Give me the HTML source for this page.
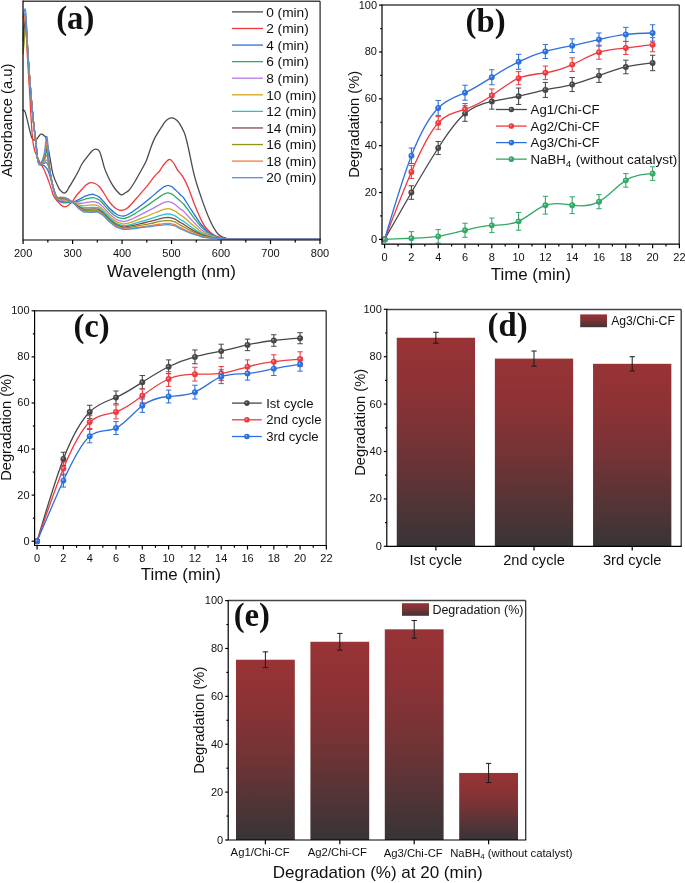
<!DOCTYPE html>
<html><head><meta charset="utf-8"><style>
html,body{margin:0;padding:0;background:#fff;}
svg{display:block;will-change:transform;}
text{font-family:"Liberation Sans",sans-serif;fill:#111;}
</style></head><body>
<svg width="685" height="883" viewBox="0 0 685 883">
<defs><radialGradient id="g474747" cx="50%" cy="50%" r="50%" fx="36%" fy="34%"><stop offset="0" stop-color="#b8b8b8"/><stop offset="0.42" stop-color="#474747"/><stop offset="1" stop-color="#474747"/></radialGradient>
<radialGradient id="gee3a3f" cx="50%" cy="50%" r="50%" fx="36%" fy="34%"><stop offset="0" stop-color="#ffc8c8"/><stop offset="0.42" stop-color="#ee3a3f"/><stop offset="1" stop-color="#ee3a3f"/></radialGradient>
<radialGradient id="g2b70dd" cx="50%" cy="50%" r="50%" fx="36%" fy="34%"><stop offset="0" stop-color="#c4dbff"/><stop offset="0.42" stop-color="#2b70dd"/><stop offset="1" stop-color="#2b70dd"/></radialGradient>
<radialGradient id="g35a766" cx="50%" cy="50%" r="50%" fx="36%" fy="34%"><stop offset="0" stop-color="#c4f0d6"/><stop offset="0.42" stop-color="#35a766"/><stop offset="1" stop-color="#35a766"/></radialGradient>
<linearGradient id="bar" x1="0" y1="0" x2="0" y2="1"><stop offset="0" stop-color="#993335"/><stop offset="0.25" stop-color="#8c3235"/><stop offset="0.5" stop-color="#763335"/><stop offset="0.75" stop-color="#573436"/><stop offset="1" stop-color="#383436"/></linearGradient>
<linearGradient id="bar2" x1="0" y1="0" x2="0" y2="1"><stop offset="0" stop-color="#993335"/><stop offset="0.5" stop-color="#7a3335"/><stop offset="1" stop-color="#3c3436"/></linearGradient></defs>
<rect width="685" height="883" fill="#fff"/>
<g fill="none" stroke-width="1.3" stroke-linejoin="round" stroke-linecap="round">
<path d="M23.2,110.2 C23.52,110.48 24.27,109.63 25.1,111.9 C25.93,114.17 27.07,119.45 28.2,123.8 C29.33,128.15 30.67,135.28 31.9,138 C33.13,140.72 34.58,140.18 35.6,140.1 C36.62,140.02 37.2,138.47 38,137.5 C38.8,136.53 39.67,134.83 40.4,134.3 C41.13,133.77 41.72,134.02 42.4,134.3 C43.08,134.58 43.87,135.27 44.5,136 C45.13,136.73 45.37,135.53 46.2,138.7 C47.03,141.87 48.35,149.02 49.5,155 C50.65,160.98 51.6,169.17 53.1,174.6 C54.6,180.03 57.1,184.78 58.5,187.6 C59.9,190.42 60.52,190.57 61.5,191.5 C62.48,192.43 63.48,193.28 64.4,193.2 C65.32,193.12 66.12,192.17 67,191 C67.88,189.83 68.48,188.27 69.7,186.2 C70.92,184.13 72.83,181.13 74.3,178.6 C75.77,176.07 77.18,173.52 78.5,171 C79.82,168.48 80.6,166.07 82.2,163.5 C83.8,160.93 86.47,157.68 88.1,155.6 C89.73,153.52 90.8,152.08 92,151 C93.2,149.92 94.3,149.3 95.3,149.1 C96.3,148.9 97.23,149.27 98,149.8 C98.77,150.33 99.23,150.77 99.9,152.3 C100.57,153.83 101.23,156.37 102,159 C102.77,161.63 103.5,165.18 104.5,168.1 C105.5,171.02 106.78,173.87 108,176.5 C109.22,179.13 110.47,181.65 111.8,183.9 C113.13,186.15 114.45,188.18 116,190 C117.55,191.82 119.6,194.3 121.1,194.8 C122.6,195.3 123.68,193.75 125,193 C126.32,192.25 127.5,191.97 129,190.3 C130.5,188.63 132.4,185.55 134,183 C135.6,180.45 136.58,178.62 138.6,175 C140.62,171.38 144.2,165.47 146.1,161.3 C148,157.13 148.67,153.65 150,150 C151.33,146.35 152.57,142.62 154.1,139.4 C155.63,136.18 157.38,133.62 159.2,130.7 C161.02,127.78 163.45,123.88 165,121.9 C166.55,119.92 167.4,119.48 168.5,118.8 C169.6,118.12 170.52,117.77 171.6,117.8 C172.68,117.83 173.78,118.2 175,119 C176.22,119.8 177.4,120.42 178.9,122.6 C180.4,124.78 182.73,129.2 184,132.1 C185.27,135 185.7,137.02 186.5,140 C187.3,142.98 187.43,143.85 188.8,150 C190.17,156.15 192.45,168.47 194.7,176.9 C196.95,185.33 199.78,193.43 202.3,200.6 C204.82,207.77 207.47,214.7 209.8,219.9 C212.13,225.1 214.43,229.08 216.3,231.8 C218.17,234.52 219.38,235.13 221,236.2 C222.62,237.27 224.17,237.77 226,238.2 C227.83,238.63 216.33,238.7 232,238.8 C247.67,238.9 305.33,238.8 320,238.8" stroke="#4a4a4a"/>
<path d="M23.2,40 C23.53,36 24.52,13.5 25.2,16 C25.88,18.5 26.58,42.67 27.3,55 C28.02,67.33 28.85,79.17 29.5,90 C30.15,100.83 30.67,111.67 31.2,120 C31.73,128.33 32.15,135 32.7,140 C33.25,145 33.82,147.4 34.5,150 C35.18,152.6 35.88,153.52 36.8,155.6 C37.72,157.68 38.87,160.35 40,162.5 C41.13,164.65 42.52,166.33 43.6,168.5 C44.68,170.67 45.6,173.23 46.5,175.5 C47.4,177.77 48.17,179.77 49,182.1 C49.83,184.43 50.7,187.12 51.5,189.5 C52.3,191.88 52.73,194.38 53.8,196.4 C54.87,198.42 56.7,200.17 57.9,201.6 C59.1,203.03 59.9,204.12 61,205 C62.1,205.88 63.33,206.82 64.5,206.9 C65.67,206.98 66.7,206.38 68,205.5 C69.3,204.62 70.88,203.27 72.3,201.6 C73.72,199.93 74.97,197.47 76.5,195.5 C78.03,193.53 79.92,191.55 81.5,189.8 C83.08,188.05 84.47,186.2 86,185 C87.53,183.8 89.2,182.85 90.7,182.6 C92.2,182.35 93.57,182.85 95,183.5 C96.43,184.15 97.88,185 99.3,186.5 C100.72,188 102.08,190.32 103.5,192.5 C104.92,194.68 106.38,197.52 107.8,199.6 C109.22,201.68 110.63,203.52 112,205 C113.37,206.48 114.4,207.58 116,208.5 C117.6,209.42 119.58,210.68 121.6,210.5 C123.62,210.32 125.55,209.52 128.1,207.4 C130.65,205.28 133.97,201.08 136.9,197.8 C139.83,194.52 142.63,191.43 145.7,187.7 C148.77,183.97 153.05,178.1 155.3,175.4 C157.55,172.7 157.83,173.23 159.2,171.5 C160.57,169.77 161.92,166.98 163.5,165 C165.08,163.02 167.37,160.35 168.7,159.6 C170.03,158.85 170.57,159.77 171.5,160.5 C172.43,161.23 173.3,162.43 174.3,164 C175.3,165.57 176.07,167.75 177.5,169.9 C178.93,172.05 181.1,173.93 182.9,176.9 C184.7,179.87 186.33,183.03 188.3,187.7 C190.27,192.37 192.37,199.17 194.7,204.9 C197.03,210.63 200.33,218.17 202.3,222.1 C204.27,226.03 205.07,226.72 206.5,228.5 C207.93,230.28 209.48,231.63 210.9,232.8 C212.32,233.97 213.57,234.78 215,235.5 C216.43,236.22 217.67,236.58 219.5,237.1 C221.33,237.62 223.42,238.32 226,238.6 C228.58,238.88 219.33,238.77 235,238.8 C250.67,238.83 305.83,238.8 320,238.8" stroke="#ee3a3a"/>
<path d="M23.2,30 C23.6,27.42 24.75,9.5 25.6,14.5 C26.45,19.5 27.33,45.75 28.3,60 C29.27,74.25 30.47,89 31.4,100 C32.33,111 33.17,119.17 33.9,126 C34.63,132.83 35.18,135.5 35.8,141 C36.42,146.5 36.9,155.08 37.6,159 C38.3,162.92 39,163.45 40,164.5 C41,165.55 42.32,164.4 43.6,165.3 C44.88,166.2 46.55,167.78 47.7,169.9 C48.85,172.02 49.6,175.05 50.5,178 C51.4,180.95 52.1,184.17 53.1,187.6 C54.1,191.03 55.35,196.23 56.5,198.6 C57.65,200.97 58.75,201.08 60,201.8 C61.25,202.52 62.67,202.78 64,202.9 C65.33,203.02 66.57,202.6 68,202.5 C69.43,202.4 70.85,202.76 72.6,202.3 C74.35,201.84 77.43,200.19 78.5,199.72 C79.57,199.25 78.1,200 79,199.5 C79.9,199 82.9,197.29 83.9,196.72 C84.9,196.16 84.15,196.42 85,196.1 C85.85,195.78 88.17,195.04 89,194.8 C89.83,194.56 89.3,194.76 90,194.68 C90.7,194.6 91.88,194.04 93.2,194.3 C94.52,194.56 96.93,195.84 97.9,196.24 C98.87,196.64 98.15,195.91 99,196.7 C99.85,197.49 102.25,200.17 103,200.97 C103.75,201.77 102.6,200.46 103.5,201.5 C104.4,202.54 107.32,206 108.4,207.2 C109.48,208.4 109.07,207.83 110,208.71 C110.93,209.6 113,211.66 114,212.5 C115,213.34 115.33,213.33 116,213.75 C116.67,214.17 116.85,214.59 118,215 C119.15,215.41 121.93,216.04 122.9,216.2 C123.87,216.36 123.12,216.14 123.8,215.94 C124.48,215.74 125.63,215.64 127,215 C128.37,214.36 131.08,212.62 132,212.09 C132.92,211.56 130.95,212.95 132.5,211.8 C134.05,210.65 138.38,207.47 141.3,205.2 C144.22,202.93 147.08,200.6 150,198.2 C152.92,195.8 156.55,192.67 158.8,190.8 C161.05,188.93 162.33,187.78 163.5,187 C164.67,186.22 165.05,186.41 165.8,186.13 C166.55,185.85 167.3,185.31 168,185.3 C168.7,185.29 169.33,185.8 170,186.05 C170.67,186.3 171.17,186.22 172,186.8 C172.83,187.38 174.25,188.85 175,189.53 C175.75,190.22 175.53,189.96 176.5,190.9 C177.47,191.84 179.55,193.95 180.8,195.2 C182.05,196.45 182.22,195.9 184,198.4 C185.78,200.9 188.82,206.07 191.5,210.2 C194.18,214.33 198.3,220.61 200.1,223.2 C201.9,225.79 201.32,224.6 202.3,225.74 C203.28,226.87 204.57,228.64 206,230 C207.43,231.36 209.9,233.16 210.9,233.9 C211.9,234.64 210.98,233.94 212,234.46 C213.02,234.98 215.33,236.4 217,237 C218.67,237.6 220.83,237.82 222,238.07 C223.17,238.32 222.33,238.38 224,238.5 C225.67,238.62 216,238.75 232,238.8 C248,238.85 305.33,238.8 320,238.8" stroke="#2b6fe0"/>
<path d="M23.2,36 C23.6,33.25 24.75,15.5 25.6,19.5 C26.45,23.5 27.33,46.58 28.3,60 C29.27,73.42 30.47,89 31.4,100 C32.33,111 33.17,119.17 33.9,126 C34.63,132.83 35.18,135.5 35.8,141 C36.42,146.5 36.9,155.08 37.6,159 C38.3,162.92 38.9,163.79 40,164.5 C41.1,165.21 43.03,163.49 44.2,163.26 C45.37,163.03 46.1,161.92 47,163.1 C47.9,164.28 48.7,166.84 49.6,170.36 C50.5,173.88 51.25,179.56 52.4,184.2 C53.55,188.84 55.23,195.43 56.5,198.22 C57.77,201.01 58.75,200.34 60,200.95 C61.25,201.55 62.67,201.71 64,201.86 C65.33,202 66.57,201.76 68,201.84 C69.43,201.91 70.85,202.38 72.6,202.3 C74.35,202.22 77.43,201.53 78.5,201.35 C79.57,201.17 78.1,201.52 79,201.24 C79.9,200.95 82.9,199.98 83.9,199.63 C84.9,199.28 84.15,199.38 85,199.13 C85.85,198.89 88.17,198.31 89,198.13 C89.83,197.95 89.3,198.12 90,198.05 C90.7,197.98 91.88,197.51 93.2,197.71 C94.52,197.91 96.93,198.9 97.9,199.24 C98.87,199.58 98.15,199 99,199.74 C99.85,200.48 102.25,202.94 103,203.69 C103.75,204.44 102.6,203.2 103.5,204.22 C104.4,205.23 107.32,208.59 108.4,209.76 C109.48,210.94 109.07,210.43 110,211.3 C110.93,212.16 113,214.12 114,214.94 C115,215.77 115.33,215.84 116,216.25 C116.67,216.66 116.85,216.99 118,217.39 C119.15,217.8 121.93,218.5 122.9,218.69 C123.87,218.88 123.12,218.69 123.8,218.53 C124.48,218.37 125.63,218.26 127,217.71 C128.37,217.17 131.08,215.72 132,215.27 C132.92,214.82 130.95,215.99 132.5,215.02 C134.05,214.05 138.38,211.36 141.3,209.46 C144.22,207.55 147.08,205.61 150,203.6 C152.92,201.58 156.55,198.94 158.8,197.37 C161.05,195.81 162.33,194.86 163.5,194.21 C164.67,193.55 165.05,193.69 165.8,193.46 C166.55,193.22 167.3,192.8 168,192.8 C168.7,192.79 169.33,193.2 170,193.41 C170.67,193.63 171.17,193.59 172,194.1 C172.83,194.6 174.25,195.83 175,196.42 C175.75,197.02 175.53,196.82 176.5,197.69 C177.47,198.55 179.55,200.49 180.8,201.62 C182.05,202.75 182.22,202.31 184,204.48 C185.78,206.65 188.82,211.13 191.5,214.66 C194.18,218.2 198.3,223.49 200.1,225.69 C201.9,227.9 201.32,226.92 202.3,227.88 C203.28,228.83 204.57,230.29 206,231.42 C207.43,232.56 209.9,234.08 210.9,234.71 C211.9,235.34 210.98,234.76 212,235.19 C213.02,235.62 215.33,236.78 217,237.28 C218.67,237.79 220.83,237.98 222,238.19 C223.17,238.4 222.33,238.44 224,238.54 C225.67,238.64 216,238.76 232,238.8 C248,238.84 305.33,238.8 320,238.8" stroke="#30a862"/>
<path d="M23.2,42 C23.6,38.92 24.75,20.5 25.6,23.5 C26.45,26.5 27.33,47.25 28.3,60 C29.27,72.75 30.47,89 31.4,100 C32.33,111 33.17,119.17 33.9,126 C34.63,132.83 35.18,135.5 35.8,141 C36.42,146.5 36.9,155.08 37.6,159 C38.3,162.92 38.9,163.95 40,164.5 C41.1,165.05 43.03,163 44.2,162.31 C45.37,161.63 46.1,159.1 47,160.4 C47.9,161.7 48.7,166.12 49.6,170.09 C50.5,174.06 51.25,179.59 52.4,184.2 C53.55,188.81 55.23,195.15 56.5,197.77 C57.77,200.4 58.75,199.47 60,199.94 C61.25,200.42 62.67,200.44 64,200.63 C65.33,200.81 66.57,200.78 68,201.05 C69.43,201.33 70.85,201.93 72.6,202.3 C74.35,202.67 77.43,203.1 78.5,203.26 C79.57,203.43 78.1,203.31 79,203.28 C79.9,203.24 82.9,203.13 83.9,203.03 C84.9,202.94 84.15,202.86 85,202.7 C85.85,202.53 88.17,202.16 89,202.04 C89.83,201.93 89.3,202.05 90,202 C90.7,201.94 91.88,201.58 93.2,201.71 C94.52,201.83 96.93,202.48 97.9,202.75 C98.87,203.02 98.15,202.62 99,203.31 C99.85,204 102.25,206.2 103,206.89 C103.75,207.57 102.6,206.42 103.5,207.41 C104.4,208.39 107.32,211.62 108.4,212.78 C109.48,213.93 109.07,213.49 110,214.33 C110.93,215.16 113,217 114,217.81 C115,218.62 115.33,218.78 116,219.18 C116.67,219.58 116.85,219.8 118,220.2 C119.15,220.6 121.93,221.38 122.9,221.61 C123.87,221.84 123.12,221.7 123.8,221.58 C124.48,221.46 125.63,221.33 127,220.9 C128.37,220.47 131.08,219.34 132,218.99 C132.92,218.64 130.95,219.55 132.5,218.79 C134.05,218.04 138.38,215.93 141.3,214.45 C144.22,212.97 147.08,211.49 150,209.93 C152.92,208.37 156.55,206.3 158.8,205.09 C161.05,203.88 162.33,203.17 163.5,202.67 C164.67,202.16 165.05,202.24 165.8,202.06 C166.55,201.88 167.3,201.59 168,201.59 C168.7,201.59 169.33,201.88 170,202.05 C170.67,202.23 171.17,202.25 172,202.66 C172.83,203.07 174.25,204.01 175,204.51 C175.75,205.01 175.53,204.88 176.5,205.66 C177.47,206.43 179.55,208.17 180.8,209.16 C182.05,210.15 182.22,209.83 184,211.62 C185.78,213.41 188.82,217.07 191.5,219.91 C194.18,222.74 198.3,226.87 200.1,228.62 C201.9,230.37 201.32,229.64 202.3,230.39 C203.28,231.13 204.57,232.22 206,233.1 C207.43,233.97 209.9,235.16 210.9,235.66 C211.9,236.15 210.98,235.72 212,236.05 C213.02,236.37 215.33,237.24 217,237.62 C218.67,238 220.83,238.17 222,238.33 C223.17,238.49 222.33,238.51 224,238.59 C225.67,238.67 216,238.77 232,238.8 C248,238.83 305.33,238.8 320,238.8" stroke="#b47be6"/>
<path d="M23.2,54 C23.6,50.25 24.75,30.5 25.6,31.5 C26.45,32.5 27.33,48.58 28.3,60 C29.27,71.42 30.47,89 31.4,100 C32.33,111 33.17,119.17 33.9,126 C34.63,132.83 35.18,135.5 35.8,141 C36.42,146.5 36.9,155.08 37.6,159 C38.3,162.92 38.9,164.25 40,164.5 C41.1,164.75 43.03,162.06 44.2,160.53 C45.37,159 46.1,153.79 47,155.3 C47.9,156.81 48.7,164.76 49.6,169.58 C50.5,174.4 51.25,179.56 52.4,184.2 C53.55,188.84 55.23,194.93 56.5,197.42 C57.77,199.91 58.75,198.76 60,199.14 C61.25,199.51 62.67,199.43 64,199.64 C65.33,199.86 66.57,199.99 68,200.43 C69.43,200.87 70.85,201.57 72.6,202.3 C74.35,203.03 77.43,204.36 78.5,204.8 C79.57,205.23 78.1,204.75 79,204.91 C79.9,205.07 82.9,205.66 83.9,205.77 C84.9,205.87 84.15,205.65 85,205.56 C85.85,205.46 88.17,205.24 89,205.18 C89.83,205.12 89.3,205.21 90,205.17 C90.7,205.13 91.88,204.85 93.2,204.92 C94.52,204.99 96.93,205.36 97.9,205.57 C98.87,205.78 98.15,205.53 99,206.18 C99.85,206.83 102.25,208.82 103,209.45 C103.75,210.08 102.6,209.01 103.5,209.97 C104.4,210.92 107.32,214.06 108.4,215.19 C109.48,216.32 109.07,215.94 110,216.76 C110.93,217.58 113,219.32 114,220.12 C115,220.91 115.33,221.15 116,221.53 C116.67,221.92 116.85,222.05 118,222.45 C119.15,222.86 121.93,223.69 122.9,223.95 C123.87,224.21 123.12,224.11 123.8,224.03 C124.48,223.94 125.63,223.8 127,223.46 C128.37,223.12 131.08,222.25 132,221.98 C132.92,221.71 130.95,222.41 132.5,221.83 C134.05,221.24 138.38,219.6 141.3,218.46 C144.22,217.33 147.08,216.21 150,215.01 C152.92,213.82 156.55,212.21 158.8,211.28 C161.05,210.36 162.33,209.84 163.5,209.45 C164.67,209.07 165.05,209.1 165.8,208.96 C166.55,208.83 167.3,208.65 168,208.66 C168.7,208.66 169.33,208.84 170,208.99 C170.67,209.14 171.17,209.2 172,209.53 C172.83,209.87 174.25,210.58 175,211 C175.75,211.42 175.53,211.35 176.5,212.05 C177.47,212.75 179.55,214.33 180.8,215.21 C182.05,216.09 182.22,215.86 184,217.35 C185.78,218.83 188.82,221.84 191.5,224.11 C194.18,226.38 198.3,229.59 200.1,230.97 C201.9,232.35 201.32,231.83 202.3,232.4 C203.28,232.98 204.57,233.77 206,234.44 C207.43,235.11 209.9,236.03 210.9,236.42 C211.9,236.8 210.98,236.49 212,236.73 C213.02,236.98 215.33,237.6 217,237.89 C218.67,238.17 220.83,238.32 222,238.44 C223.17,238.57 222.33,238.57 224,238.63 C225.67,238.69 216,238.77 232,238.8 C248,238.83 305.33,238.8 320,238.8" stroke="#d6a31c"/>
<path d="M23.2,46 C23.6,42.58 24.75,23.17 25.6,25.5 C26.45,27.83 27.33,47.58 28.3,60 C29.27,72.42 30.47,89 31.4,100 C32.33,111 33.17,119.17 33.9,126 C34.63,132.83 35.18,135.5 35.8,141 C36.42,146.5 36.9,155.08 37.6,159 C38.3,162.92 38.9,164.43 40,164.5 C41.1,164.57 43.03,161.5 44.2,159.44 C45.37,157.39 46.1,150.56 47,152.2 C47.9,153.84 48.7,163.94 49.6,169.27 C50.5,174.6 51.25,179.55 52.4,184.2 C53.55,188.85 55.23,194.76 56.5,197.15 C57.77,199.53 58.75,198.24 60,198.53 C61.25,198.82 62.67,198.66 64,198.9 C65.33,199.14 66.57,199.39 68,199.96 C69.43,200.52 70.85,201.3 72.6,202.3 C74.35,203.3 77.43,205.32 78.5,205.96 C79.57,206.6 78.1,205.83 79,206.15 C79.9,206.46 82.9,207.57 83.9,207.83 C84.9,208.09 84.15,207.76 85,207.71 C85.85,207.66 88.17,207.57 89,207.55 C89.83,207.52 89.3,207.6 90,207.56 C90.7,207.53 91.88,207.32 93.2,207.34 C94.52,207.36 96.93,207.53 97.9,207.7 C98.87,207.87 98.15,207.73 99,208.34 C99.85,208.96 102.25,210.79 103,211.39 C103.75,211.98 102.6,210.96 103.5,211.9 C104.4,212.83 107.32,215.9 108.4,217.01 C109.48,218.13 109.07,217.78 110,218.59 C110.93,219.4 113,221.07 114,221.85 C115,222.64 115.33,222.93 116,223.31 C116.67,223.69 116.85,223.75 118,224.15 C119.15,224.56 121.93,225.43 122.9,225.72 C123.87,226 123.12,225.92 123.8,225.87 C124.48,225.82 125.63,225.66 127,225.39 C128.37,225.12 131.08,224.45 132,224.24 C132.92,224.03 130.95,224.57 132.5,224.11 C134.05,223.65 138.38,222.36 141.3,221.48 C144.22,220.61 147.08,219.77 150,218.85 C152.92,217.93 156.55,216.67 158.8,215.95 C161.05,215.24 162.33,214.87 163.5,214.58 C164.67,214.28 165.05,214.27 165.8,214.17 C166.55,214.07 167.3,213.97 168,213.98 C168.7,213.99 169.33,214.1 170,214.22 C170.67,214.34 171.17,214.44 172,214.72 C172.83,215 174.25,215.54 175,215.9 C175.75,216.26 175.53,216.23 176.5,216.87 C177.47,217.52 179.55,218.97 180.8,219.77 C182.05,220.57 182.22,220.42 184,221.67 C185.78,222.92 188.82,225.44 191.5,227.28 C194.18,229.13 198.3,231.64 200.1,232.74 C201.9,233.85 201.32,233.47 202.3,233.92 C203.28,234.38 204.57,234.94 206,235.45 C207.43,235.96 209.9,236.69 210.9,236.99 C211.9,237.29 210.98,237.07 212,237.25 C213.02,237.43 215.33,237.88 217,238.09 C218.67,238.3 220.83,238.43 222,238.53 C223.17,238.62 222.33,238.61 224,238.66 C225.67,238.71 216,238.78 232,238.8 C248,238.82 305.33,238.8 320,238.8" stroke="#1cc6d6"/>
<path d="M23.2,40 C23.6,36.92 24.75,18.17 25.6,21.5 C26.45,24.83 27.33,46.92 28.3,60 C29.27,73.08 30.47,89 31.4,100 C32.33,111 33.17,119.17 33.9,126 C34.63,132.83 35.18,135.5 35.8,141 C36.42,146.5 36.9,155.08 37.6,159 C38.3,162.92 38.9,164.58 40,164.5 C41.1,164.42 43.03,161 44.2,158.5 C45.37,156 46.1,147.75 47,149.5 C47.9,151.25 48.7,163.22 49.6,169 C50.5,174.78 51.25,179.54 52.4,184.2 C53.55,188.86 55.23,194.65 56.5,196.97 C57.77,199.29 58.75,197.89 60,198.13 C61.25,198.37 62.67,198.16 64,198.41 C65.33,198.66 66.57,199 68,199.64 C69.43,200.29 70.85,201.12 72.6,202.3 C74.35,203.48 77.43,205.94 78.5,206.72 C79.57,207.5 78.1,206.55 79,206.96 C79.9,207.37 82.9,208.83 83.9,209.19 C84.9,209.55 84.15,209.15 85,209.13 C85.85,209.12 88.17,209.11 89,209.11 C89.83,209.11 89.3,209.17 90,209.14 C90.7,209.11 91.88,208.94 93.2,208.94 C94.52,208.93 96.93,208.96 97.9,209.1 C98.87,209.24 98.15,209.17 99,209.77 C99.85,210.36 102.25,212.1 103,212.66 C103.75,213.23 102.6,212.24 103.5,213.17 C104.4,214.09 107.32,217.11 108.4,218.22 C109.48,219.32 109.07,219 110,219.8 C110.93,220.6 113,222.22 114,223 C115,223.78 115.33,224.1 116,224.48 C116.67,224.86 116.85,224.88 118,225.28 C119.15,225.68 121.93,226.58 122.9,226.88 C123.87,227.18 123.12,227.12 123.8,227.09 C124.48,227.05 125.63,226.89 127,226.66 C128.37,226.43 131.08,225.9 132,225.73 C132.92,225.55 130.95,225.99 132.5,225.62 C134.05,225.24 138.38,224.19 141.3,223.48 C144.22,222.77 147.08,222.12 150,221.37 C152.92,220.63 156.55,219.6 158.8,219.03 C161.05,218.46 162.33,218.19 163.5,217.95 C164.67,217.71 165.05,217.68 165.8,217.6 C166.55,217.53 167.3,217.48 168,217.49 C168.7,217.5 169.33,217.56 170,217.67 C170.67,217.78 171.17,217.89 172,218.13 C172.83,218.38 174.25,218.81 175,219.13 C175.75,219.45 175.53,219.44 176.5,220.05 C177.47,220.66 179.55,222.04 180.8,222.78 C182.05,223.52 182.22,223.42 184,224.52 C185.78,225.62 188.82,227.81 191.5,229.38 C194.18,230.94 198.3,232.99 200.1,233.91 C201.9,234.84 201.32,234.56 202.3,234.93 C203.28,235.29 204.57,235.71 206,236.12 C207.43,236.52 209.9,237.12 210.9,237.37 C211.9,237.62 210.98,237.45 212,237.59 C213.02,237.74 215.33,238.06 217,238.22 C218.67,238.39 220.83,238.51 222,238.58 C223.17,238.66 222.33,238.64 224,238.68 C225.67,238.72 216,238.78 232,238.8 C248,238.82 305.33,238.8 320,238.8" stroke="#7d4c4c"/>
<path d="M23.2,50 C23.6,46.42 24.75,26.83 25.6,28.5 C26.45,30.17 27.33,48.08 28.3,60 C29.27,71.92 30.47,89 31.4,100 C32.33,111 33.17,119.17 33.9,126 C34.63,132.83 35.18,135.5 35.8,141 C36.42,146.5 36.9,155.08 37.6,159 C38.3,162.92 38.9,164.79 40,164.5 C41.1,164.21 43.03,160.36 44.2,157.28 C45.37,154.19 46.1,144.1 47,146 C47.9,147.9 48.7,162.28 49.6,168.65 C50.5,175.02 51.25,179.51 52.4,184.2 C53.55,188.89 55.23,194.55 56.5,196.81 C57.77,199.08 58.75,197.59 60,197.78 C61.25,197.98 62.67,197.72 64,197.99 C65.33,198.25 66.57,198.66 68,199.37 C69.43,200.09 70.85,200.97 72.6,202.3 C74.35,203.63 77.43,206.49 78.5,207.38 C79.57,208.28 78.1,207.17 79,207.66 C79.9,208.16 82.9,209.92 83.9,210.37 C84.9,210.82 84.15,210.35 85,210.36 C85.85,210.38 88.17,210.43 89,210.46 C89.83,210.48 89.3,210.53 90,210.5 C90.7,210.48 91.88,210.35 93.2,210.32 C94.52,210.29 96.93,210.2 97.9,210.31 C98.87,210.43 98.15,210.42 99,211 C99.85,211.57 102.25,213.22 103,213.77 C103.75,214.31 102.6,213.36 103.5,214.27 C104.4,215.18 107.32,218.16 108.4,219.26 C109.48,220.35 109.07,220.06 110,220.85 C110.93,221.64 113,223.22 114,223.99 C115,224.76 115.33,225.12 116,225.49 C116.67,225.87 116.85,225.85 118,226.24 C119.15,226.64 121.93,227.57 122.9,227.89 C123.87,228.2 123.12,228.16 123.8,228.14 C124.48,228.12 125.63,227.95 127,227.76 C128.37,227.57 131.08,227.15 132,227.01 C132.92,226.87 130.95,227.22 132.5,226.92 C134.05,226.62 138.38,225.76 141.3,225.2 C144.22,224.64 147.08,224.15 150,223.56 C152.92,222.98 156.55,222.15 158.8,221.7 C161.05,221.25 162.33,221.06 163.5,220.87 C164.67,220.68 165.05,220.63 165.8,220.57 C166.55,220.52 167.3,220.52 168,220.53 C168.7,220.54 169.33,220.56 170,220.65 C170.67,220.75 171.17,220.88 172,221.09 C172.83,221.3 174.25,221.63 175,221.92 C175.75,222.21 175.53,222.23 176.5,222.8 C177.47,223.38 179.55,224.69 180.8,225.38 C182.05,226.08 182.22,226.01 184,226.98 C185.78,227.95 188.82,229.86 191.5,231.19 C194.18,232.51 198.3,234.15 200.1,234.92 C201.9,235.69 201.32,235.5 202.3,235.79 C203.28,236.09 204.57,236.38 206,236.69 C207.43,237.01 209.9,237.5 210.9,237.7 C211.9,237.9 210.98,237.78 212,237.89 C213.02,238 215.33,238.22 217,238.34 C218.67,238.46 220.83,238.57 222,238.63 C223.17,238.69 222.33,238.67 224,238.7 C225.67,238.72 216,238.78 232,238.8 C248,238.82 305.33,238.8 320,238.8" stroke="#939318"/>
<path d="M23.2,26 C23.6,24.42 24.75,10.83 25.6,16.5 C26.45,22.17 27.33,46.08 28.3,60 C29.27,73.92 30.47,89 31.4,100 C32.33,111 33.17,119.17 33.9,126 C34.63,132.83 35.18,135.5 35.8,141 C36.42,146.5 36.9,155.08 37.6,159 C38.3,162.92 38.9,165.02 40,164.5 C41.1,163.98 43.03,159.62 44.2,155.88 C45.37,152.12 46.1,139.94 47,142 C47.9,144.06 48.7,161.22 49.6,168.25 C50.5,175.28 51.25,179.46 52.4,184.2 C53.55,188.94 55.23,194.46 56.5,196.67 C57.77,198.87 58.75,197.3 60,197.45 C61.25,197.6 62.67,197.3 64,197.58 C65.33,197.86 66.57,198.33 68,199.12 C69.43,199.9 70.85,200.82 72.6,202.3 C74.35,203.78 77.43,207.01 78.5,208.02 C79.57,209.02 78.1,207.76 79,208.34 C79.9,208.92 82.9,210.96 83.9,211.5 C84.9,212.03 84.15,211.5 85,211.55 C85.85,211.59 88.17,211.71 89,211.76 C89.83,211.8 89.3,211.83 90,211.82 C90.7,211.8 91.88,211.7 93.2,211.65 C94.52,211.59 96.93,211.39 97.9,211.48 C98.87,211.57 98.15,211.63 99,212.18 C99.85,212.74 102.25,214.3 103,214.83 C103.75,215.35 102.6,214.42 103.5,215.33 C104.4,216.23 107.32,219.17 108.4,220.25 C109.48,221.34 109.07,221.07 110,221.85 C110.93,222.63 113,224.17 114,224.94 C115,225.71 115.33,226.09 116,226.47 C116.67,226.84 116.85,226.78 118,227.18 C119.15,227.58 121.93,228.53 122.9,228.86 C123.87,229.19 123.12,229.16 123.8,229.15 C124.48,229.14 125.63,228.97 127,228.82 C128.37,228.67 131.08,228.36 132,228.25 C132.92,228.14 130.95,228.41 132.5,228.18 C134.05,227.95 138.38,227.28 141.3,226.86 C144.22,226.44 147.08,226.1 150,225.66 C152.92,225.23 156.55,224.59 158.8,224.26 C161.05,223.93 162.33,223.82 163.5,223.68 C164.67,223.54 165.05,223.47 165.8,223.43 C166.55,223.39 167.3,223.43 168,223.45 C168.7,223.47 169.33,223.44 170,223.52 C170.67,223.6 171.17,223.75 172,223.93 C172.83,224.11 174.25,224.35 175,224.6 C175.75,224.86 175.53,224.9 176.5,225.45 C177.47,226 179.55,227.23 180.8,227.88 C182.05,228.53 182.22,228.51 184,229.35 C185.78,230.19 188.82,231.83 191.5,232.92 C194.18,234.02 198.3,235.28 200.1,235.89 C201.9,236.51 201.32,236.4 202.3,236.63 C203.28,236.85 204.57,237.02 206,237.25 C207.43,237.48 209.9,237.86 210.9,238.01 C211.9,238.17 210.98,238.1 212,238.17 C213.02,238.25 215.33,238.37 217,238.45 C218.67,238.53 220.83,238.64 222,238.68 C223.17,238.72 222.33,238.69 224,238.71 C225.67,238.73 216,238.79 232,238.8 C248,238.81 305.33,238.8 320,238.8" stroke="#ff7a35"/>
<path d="M23.2,18 C23.6,16.83 24.75,4 25.6,11 C26.45,18 27.33,45.17 28.3,60 C29.27,74.83 30.47,89 31.4,100 C32.33,111 33.17,119.17 33.9,126 C34.63,132.83 35.18,135.5 35.8,141 C36.42,146.5 36.9,155.08 37.6,159 C38.3,162.92 38.9,165.33 40,164.5 C41.1,163.67 43.03,158.65 44.2,154.02 C45.37,149.39 46.1,134.42 47,136.7 C47.9,138.98 48.7,159.8 49.6,167.72 C50.5,175.64 51.25,179.39 52.4,184.2 C53.55,189.01 55.23,194.42 56.5,196.6 C57.77,198.78 58.75,197.17 60,197.3 C61.25,197.43 62.67,197.12 64,197.4 C65.33,197.68 66.57,198.18 68,199 C69.43,199.82 70.85,200.75 72.6,202.3 C74.35,203.85 77.43,207.24 78.5,208.3 C79.57,209.36 78.1,208.03 79,208.64 C79.9,209.26 82.9,211.43 83.9,212 C84.9,212.57 84.15,212.02 85,212.07 C85.85,212.13 88.17,212.28 89,212.33 C89.83,212.39 89.3,212.42 90,212.4 C90.7,212.38 91.88,212.3 93.2,212.24 C94.52,212.17 96.93,211.92 97.9,212 C98.87,212.08 98.15,212.16 99,212.71 C99.85,213.26 102.25,214.79 103,215.3 C103.75,215.81 102.6,214.9 103.5,215.8 C104.4,216.7 107.32,219.62 108.4,220.7 C109.48,221.78 109.07,221.52 110,222.3 C110.93,223.08 113,224.6 114,225.37 C115,226.13 115.33,226.53 116,226.9 C116.67,227.27 116.85,227.19 118,227.59 C119.15,227.99 121.93,228.95 122.9,229.29 C123.87,229.62 123.12,229.6 123.8,229.6 C124.48,229.6 125.63,229.42 127,229.29 C128.37,229.15 131.08,228.89 132,228.8 C132.92,228.71 130.95,228.94 132.5,228.74 C134.05,228.54 138.38,227.96 141.3,227.6 C144.22,227.24 147.08,226.97 150,226.6 C152.92,226.23 156.55,225.68 158.8,225.4 C161.05,225.12 162.33,225.05 163.5,224.93 C164.67,224.81 165.05,224.73 165.8,224.7 C166.55,224.67 167.3,224.74 168,224.75 C168.7,224.77 169.33,224.73 170,224.8 C170.67,224.87 171.17,225.03 172,225.2 C172.83,225.37 174.25,225.56 175,225.8 C175.75,226.04 175.53,226.09 176.5,226.63 C177.47,227.16 179.55,228.37 180.8,229 C182.05,229.63 182.22,229.62 184,230.41 C185.78,231.19 188.82,232.71 191.5,233.7 C194.18,234.69 198.3,235.78 200.1,236.33 C201.9,236.88 201.32,236.81 202.3,237 C203.28,237.19 204.57,237.3 206,237.5 C207.43,237.69 209.9,238.02 210.9,238.15 C211.9,238.29 210.98,238.24 212,238.3 C213.02,238.36 215.33,238.43 217,238.5 C218.67,238.57 220.83,238.66 222,238.7 C223.17,238.74 222.33,238.7 224,238.72 C225.67,238.74 216,238.79 232,238.8 C248,238.81 305.33,238.8 320,238.8" stroke="#5b8fd6"/>
</g>
<path d="M23,1.2H320.1" stroke="#444" stroke-width="1.5" fill="none"/>
<path d="M320.1,1.2V240" stroke="#333" stroke-width="1.3" fill="none"/>
<path d="M23,1.2V240H320.1" stroke="#000" stroke-width="1.2" fill="none" stroke-linejoin="miter" stroke-linecap="square"/>
<line x1="23.1" y1="240" x2="23.1" y2="244" stroke="#000" stroke-width="1.2" />
<text x="23.1" y="257.1" font-size="11" text-anchor="middle" >200</text>
<line x1="47.84" y1="240" x2="47.84" y2="242.5" stroke="#000" stroke-width="1.2" />
<line x1="72.58" y1="240" x2="72.58" y2="244" stroke="#000" stroke-width="1.2" />
<text x="72.58" y="257.1" font-size="11" text-anchor="middle" >300</text>
<line x1="97.32" y1="240" x2="97.32" y2="242.5" stroke="#000" stroke-width="1.2" />
<line x1="122.06" y1="240" x2="122.06" y2="244" stroke="#000" stroke-width="1.2" />
<text x="122.06" y="257.1" font-size="11" text-anchor="middle" >400</text>
<line x1="146.8" y1="240" x2="146.8" y2="242.5" stroke="#000" stroke-width="1.2" />
<line x1="171.54" y1="240" x2="171.54" y2="244" stroke="#000" stroke-width="1.2" />
<text x="171.54" y="257.1" font-size="11" text-anchor="middle" >500</text>
<line x1="196.28" y1="240" x2="196.28" y2="242.5" stroke="#000" stroke-width="1.2" />
<line x1="221.02" y1="240" x2="221.02" y2="244" stroke="#000" stroke-width="1.2" />
<text x="221.02" y="257.1" font-size="11" text-anchor="middle" >600</text>
<line x1="245.76" y1="240" x2="245.76" y2="242.5" stroke="#000" stroke-width="1.2" />
<line x1="270.5" y1="240" x2="270.5" y2="244" stroke="#000" stroke-width="1.2" />
<text x="270.5" y="257.1" font-size="11" text-anchor="middle" >700</text>
<line x1="295.24" y1="240" x2="295.24" y2="242.5" stroke="#000" stroke-width="1.2" />
<line x1="319.98" y1="240" x2="319.98" y2="244" stroke="#000" stroke-width="1.2" />
<text x="319.98" y="257.1" font-size="11" text-anchor="middle" >800</text>
<text x="171.5" y="276.9" font-size="17" text-anchor="middle" >Wavelength (nm)</text>
<text transform="translate(12.3,120.3) rotate(-90)" font-size="14.8" text-anchor="middle">Absorbance (a.u)</text>
<text x="56.2" y="29.0" font-size="32.7" style="font-family:'Liberation Serif',serif;font-weight:bold">(a)</text>
<line x1="232" y1="11.9" x2="263" y2="11.9" stroke="#4a4a4a" stroke-width="1.3" />
<text x="266.2" y="16.6" font-size="13.7" text-anchor="start" >0 (min)</text>
<line x1="232" y1="28.48" x2="263" y2="28.48" stroke="#ee3a3a" stroke-width="1.3" />
<text x="266.2" y="33.18" font-size="13.7" text-anchor="start" >2 (min)</text>
<line x1="232" y1="45.06" x2="263" y2="45.06" stroke="#2b6fe0" stroke-width="1.3" />
<text x="266.2" y="49.76" font-size="13.7" text-anchor="start" >4 (min)</text>
<line x1="232" y1="61.64" x2="263" y2="61.64" stroke="#30a862" stroke-width="1.3" />
<text x="266.2" y="66.34" font-size="13.7" text-anchor="start" >6 (min)</text>
<line x1="232" y1="78.22" x2="263" y2="78.22" stroke="#b47be6" stroke-width="1.3" />
<text x="266.2" y="82.92" font-size="13.7" text-anchor="start" >8 (min)</text>
<line x1="232" y1="94.8" x2="263" y2="94.8" stroke="#d6a31c" stroke-width="1.3" />
<text x="266.2" y="99.5" font-size="13.7" text-anchor="start" >10 (min)</text>
<line x1="232" y1="111.38" x2="263" y2="111.38" stroke="#1cc6d6" stroke-width="1.3" />
<text x="266.2" y="116.08" font-size="13.7" text-anchor="start" >12 (min)</text>
<line x1="232" y1="127.96" x2="263" y2="127.96" stroke="#7d4c4c" stroke-width="1.3" />
<text x="266.2" y="132.66" font-size="13.7" text-anchor="start" >14 (min)</text>
<line x1="232" y1="144.54" x2="263" y2="144.54" stroke="#939318" stroke-width="1.3" />
<text x="266.2" y="149.24" font-size="13.7" text-anchor="start" >16 (min)</text>
<line x1="232" y1="161.12" x2="263" y2="161.12" stroke="#ff7a35" stroke-width="1.3" />
<text x="266.2" y="165.82" font-size="13.7" text-anchor="start" >18 (min)</text>
<line x1="232" y1="177.7" x2="263" y2="177.7" stroke="#5b8fd6" stroke-width="1.3" />
<text x="266.2" y="182.4" font-size="13.7" text-anchor="start" >20 (min)</text>
<path d="M384.6,239.4 C393.53,223.68 402.47,207.96 411.4,192.54 C420.33,177.12 429.27,161.99 438.2,148.02 C447.13,134.06 456.07,121.26 465,113.58 C473.93,105.9 482.87,103.33 491.8,101.4 C500.73,99.46 509.67,98.16 518.6,96.24 C527.53,94.33 536.47,91.8 545.4,89.92 C554.33,88.04 563.27,86.81 572.2,84.53 C581.13,82.25 590.07,78.92 599,75.62 C607.93,72.33 616.87,69.06 625.8,66.96 C634.73,64.85 643.67,63.91 652.6,62.97" fill="none" stroke="#474747" stroke-width="1.3"/>
<path d="M384.6,239.4 C393.53,216.09 402.47,192.78 411.4,171.92 C420.33,151.06 429.27,132.65 438.2,122.95 C447.13,113.25 456.07,112.26 465,109.36 C473.93,106.46 482.87,101.66 491.8,95.54 C500.73,89.42 509.67,82 518.6,78.2 C527.53,74.41 536.47,74.25 545.4,72.81 C554.33,71.38 563.27,68.67 572.2,64.61 C581.13,60.55 590.07,55.13 599,52.19 C607.93,49.26 616.87,48.81 625.8,47.98 C634.73,47.14 643.67,45.92 652.6,44.7" fill="none" stroke="#ee3a3f" stroke-width="1.3"/>
<path d="M384.6,239.4 C393.53,209.1 402.47,178.79 411.4,155.75 C420.33,132.72 429.27,116.95 438.2,107.96 C447.13,98.96 456.07,96.75 465,92.73 C473.93,88.71 482.87,82.89 491.8,77.26 C500.73,71.64 509.67,66.22 518.6,61.8 C527.53,57.38 536.47,53.97 545.4,51.49 C554.33,49.02 563.27,47.48 572.2,45.63 C581.13,43.79 590.07,41.62 599,39.54 C607.93,37.46 616.87,35.47 625.8,34.39 C634.73,33.31 643.67,33.14 652.6,32.98" fill="none" stroke="#2b70dd" stroke-width="1.3"/>
<path d="M384.6,239.4 C393.53,238.97 402.47,238.55 411.4,238.23 C420.33,237.91 429.27,237.7 438.2,236.35 C447.13,235.01 456.07,232.51 465,230.26 C473.93,228.01 482.87,225.99 491.8,225.34 C500.73,224.69 509.67,225.4 518.6,221.36 C527.53,217.32 536.47,208.53 545.4,205.19 C554.33,201.85 563.27,203.96 572.2,205.19 C581.13,206.43 590.07,206.8 599,201.68 C607.93,196.56 616.87,185.96 625.8,180.36 C634.73,174.76 643.67,174.16 652.6,173.56" fill="none" stroke="#35a766" stroke-width="1.3"/>
<path d="M411.4,185.75V199.33" stroke="#474747" stroke-width="1.1" fill="none"/>
<path d="M408.7,185.75H414.1M408.7,199.33H414.1" stroke="#474747" stroke-width="1.0" fill="none"/>
<path d="M438.2,141.46V154.58" stroke="#474747" stroke-width="1.1" fill="none"/>
<path d="M435.5,141.46H440.9M435.5,154.58H440.9" stroke="#474747" stroke-width="1.0" fill="none"/>
<path d="M465,105.85V121.31" stroke="#474747" stroke-width="1.1" fill="none"/>
<path d="M462.3,105.85H467.7M462.3,121.31H467.7" stroke="#474747" stroke-width="1.0" fill="none"/>
<path d="M491.8,93.67V109.13" stroke="#474747" stroke-width="1.1" fill="none"/>
<path d="M489.1,93.67H494.5M489.1,109.13H494.5" stroke="#474747" stroke-width="1.0" fill="none"/>
<path d="M518.6,88.04V104.44" stroke="#474747" stroke-width="1.1" fill="none"/>
<path d="M515.9,88.04H521.3M515.9,104.44H521.3" stroke="#474747" stroke-width="1.0" fill="none"/>
<path d="M545.4,82.42V97.41" stroke="#474747" stroke-width="1.1" fill="none"/>
<path d="M542.7,82.42H548.1M542.7,97.41H548.1" stroke="#474747" stroke-width="1.0" fill="none"/>
<path d="M572.2,77.5V91.56" stroke="#474747" stroke-width="1.1" fill="none"/>
<path d="M569.5,77.5H574.9M569.5,91.56H574.9" stroke="#474747" stroke-width="1.0" fill="none"/>
<path d="M599,68.83V82.42" stroke="#474747" stroke-width="1.1" fill="none"/>
<path d="M596.3,68.83H601.7M596.3,82.42H601.7" stroke="#474747" stroke-width="1.0" fill="none"/>
<path d="M625.8,60.16V73.75" stroke="#474747" stroke-width="1.1" fill="none"/>
<path d="M623.1,60.16H628.5M623.1,73.75H628.5" stroke="#474747" stroke-width="1.0" fill="none"/>
<path d="M652.6,55.24V70.7" stroke="#474747" stroke-width="1.1" fill="none"/>
<path d="M649.9,55.24H655.3M649.9,70.7H655.3" stroke="#474747" stroke-width="1.0" fill="none"/>
<path d="M411.4,165.36V178.48" stroke="#ee3a3f" stroke-width="1.1" fill="none"/>
<path d="M408.7,165.36H414.1M408.7,178.48H414.1" stroke="#ee3a3f" stroke-width="1.0" fill="none"/>
<path d="M438.2,116.63V129.28" stroke="#ee3a3f" stroke-width="1.1" fill="none"/>
<path d="M435.5,116.63H440.9M435.5,129.28H440.9" stroke="#ee3a3f" stroke-width="1.0" fill="none"/>
<path d="M465,103.51V115.22" stroke="#ee3a3f" stroke-width="1.1" fill="none"/>
<path d="M462.3,103.51H467.7M462.3,115.22H467.7" stroke="#ee3a3f" stroke-width="1.0" fill="none"/>
<path d="M491.8,88.98V102.1" stroke="#ee3a3f" stroke-width="1.1" fill="none"/>
<path d="M489.1,88.98H494.5M489.1,102.1H494.5" stroke="#ee3a3f" stroke-width="1.0" fill="none"/>
<path d="M518.6,71.64V84.76" stroke="#ee3a3f" stroke-width="1.1" fill="none"/>
<path d="M515.9,71.64H521.3M515.9,84.76H521.3" stroke="#ee3a3f" stroke-width="1.0" fill="none"/>
<path d="M545.4,66.02V79.61" stroke="#ee3a3f" stroke-width="1.1" fill="none"/>
<path d="M542.7,66.02H548.1M542.7,79.61H548.1" stroke="#ee3a3f" stroke-width="1.0" fill="none"/>
<path d="M572.2,57.82V71.41" stroke="#ee3a3f" stroke-width="1.1" fill="none"/>
<path d="M569.5,57.82H574.9M569.5,71.41H574.9" stroke="#ee3a3f" stroke-width="1.0" fill="none"/>
<path d="M599,45.17V59.22" stroke="#ee3a3f" stroke-width="1.1" fill="none"/>
<path d="M596.3,45.17H601.7M596.3,59.22H601.7" stroke="#ee3a3f" stroke-width="1.0" fill="none"/>
<path d="M625.8,41.42V54.54" stroke="#ee3a3f" stroke-width="1.1" fill="none"/>
<path d="M623.1,41.42H628.5M623.1,54.54H628.5" stroke="#ee3a3f" stroke-width="1.0" fill="none"/>
<path d="M652.6,37.67V51.73" stroke="#ee3a3f" stroke-width="1.1" fill="none"/>
<path d="M649.9,37.67H655.3M649.9,51.73H655.3" stroke="#ee3a3f" stroke-width="1.0" fill="none"/>
<path d="M411.4,148.02V163.49" stroke="#2b70dd" stroke-width="1.1" fill="none"/>
<path d="M408.7,148.02H414.1M408.7,163.49H414.1" stroke="#2b70dd" stroke-width="1.0" fill="none"/>
<path d="M438.2,100.46V115.46" stroke="#2b70dd" stroke-width="1.1" fill="none"/>
<path d="M435.5,100.46H440.9M435.5,115.46H440.9" stroke="#2b70dd" stroke-width="1.0" fill="none"/>
<path d="M465,85.23V100.23" stroke="#2b70dd" stroke-width="1.1" fill="none"/>
<path d="M462.3,85.23H467.7M462.3,100.23H467.7" stroke="#2b70dd" stroke-width="1.0" fill="none"/>
<path d="M491.8,69.77V84.76" stroke="#2b70dd" stroke-width="1.1" fill="none"/>
<path d="M489.1,69.77H494.5M489.1,84.76H494.5" stroke="#2b70dd" stroke-width="1.0" fill="none"/>
<path d="M518.6,54.3V69.3" stroke="#2b70dd" stroke-width="1.1" fill="none"/>
<path d="M515.9,54.3H521.3M515.9,69.3H521.3" stroke="#2b70dd" stroke-width="1.0" fill="none"/>
<path d="M545.4,44.46V58.52" stroke="#2b70dd" stroke-width="1.1" fill="none"/>
<path d="M542.7,44.46H548.1M542.7,58.52H548.1" stroke="#2b70dd" stroke-width="1.0" fill="none"/>
<path d="M572.2,38.84V52.43" stroke="#2b70dd" stroke-width="1.1" fill="none"/>
<path d="M569.5,38.84H574.9M569.5,52.43H574.9" stroke="#2b70dd" stroke-width="1.0" fill="none"/>
<path d="M599,32.98V46.1" stroke="#2b70dd" stroke-width="1.1" fill="none"/>
<path d="M596.3,32.98H601.7M596.3,46.1H601.7" stroke="#2b70dd" stroke-width="1.0" fill="none"/>
<path d="M625.8,27.36V41.42" stroke="#2b70dd" stroke-width="1.1" fill="none"/>
<path d="M623.1,27.36H628.5M623.1,41.42H628.5" stroke="#2b70dd" stroke-width="1.0" fill="none"/>
<path d="M652.6,24.78V41.18" stroke="#2b70dd" stroke-width="1.1" fill="none"/>
<path d="M649.9,24.78H655.3M649.9,41.18H655.3" stroke="#2b70dd" stroke-width="1.0" fill="none"/>
<path d="M411.4,231.67V244.79" stroke="#35a766" stroke-width="1.1" fill="none"/>
<path d="M408.7,231.67H414.1M408.7,244.79H414.1" stroke="#35a766" stroke-width="1.0" fill="none"/>
<path d="M438.2,229.56V243.15" stroke="#35a766" stroke-width="1.1" fill="none"/>
<path d="M435.5,229.56H440.9M435.5,243.15H440.9" stroke="#35a766" stroke-width="1.0" fill="none"/>
<path d="M465,223.23V237.29" stroke="#35a766" stroke-width="1.1" fill="none"/>
<path d="M462.3,223.23H467.7M462.3,237.29H467.7" stroke="#35a766" stroke-width="1.0" fill="none"/>
<path d="M491.8,218.08V232.61" stroke="#35a766" stroke-width="1.1" fill="none"/>
<path d="M489.1,218.08H494.5M489.1,232.61H494.5" stroke="#35a766" stroke-width="1.0" fill="none"/>
<path d="M518.6,212.46V230.26" stroke="#35a766" stroke-width="1.1" fill="none"/>
<path d="M515.9,212.46H521.3M515.9,230.26H521.3" stroke="#35a766" stroke-width="1.0" fill="none"/>
<path d="M545.4,196.29V214.1" stroke="#35a766" stroke-width="1.1" fill="none"/>
<path d="M542.7,196.29H548.1M542.7,214.1H548.1" stroke="#35a766" stroke-width="1.0" fill="none"/>
<path d="M572.2,196.76V213.63" stroke="#35a766" stroke-width="1.1" fill="none"/>
<path d="M569.5,196.76H574.9M569.5,213.63H574.9" stroke="#35a766" stroke-width="1.0" fill="none"/>
<path d="M599,194.65V208.71" stroke="#35a766" stroke-width="1.1" fill="none"/>
<path d="M596.3,194.65H601.7M596.3,208.71H601.7" stroke="#35a766" stroke-width="1.0" fill="none"/>
<path d="M625.8,173.56V187.15" stroke="#35a766" stroke-width="1.1" fill="none"/>
<path d="M623.1,173.56H628.5M623.1,187.15H628.5" stroke="#35a766" stroke-width="1.0" fill="none"/>
<path d="M652.6,166.77V180.36" stroke="#35a766" stroke-width="1.1" fill="none"/>
<path d="M649.9,166.77H655.3M649.9,180.36H655.3" stroke="#35a766" stroke-width="1.0" fill="none"/>
<circle cx="384.6" cy="239.4" r="2.95" fill="url(#g474747)"/>
<circle cx="411.4" cy="192.54" r="2.95" fill="url(#g474747)"/>
<circle cx="438.2" cy="148.02" r="2.95" fill="url(#g474747)"/>
<circle cx="465" cy="113.58" r="2.95" fill="url(#g474747)"/>
<circle cx="491.8" cy="101.4" r="2.95" fill="url(#g474747)"/>
<circle cx="518.6" cy="96.24" r="2.95" fill="url(#g474747)"/>
<circle cx="545.4" cy="89.92" r="2.95" fill="url(#g474747)"/>
<circle cx="572.2" cy="84.53" r="2.95" fill="url(#g474747)"/>
<circle cx="599" cy="75.62" r="2.95" fill="url(#g474747)"/>
<circle cx="625.8" cy="66.96" r="2.95" fill="url(#g474747)"/>
<circle cx="652.6" cy="62.97" r="2.95" fill="url(#g474747)"/>
<circle cx="384.6" cy="239.4" r="2.95" fill="url(#gee3a3f)"/>
<circle cx="411.4" cy="171.92" r="2.95" fill="url(#gee3a3f)"/>
<circle cx="438.2" cy="122.95" r="2.95" fill="url(#gee3a3f)"/>
<circle cx="465" cy="109.36" r="2.95" fill="url(#gee3a3f)"/>
<circle cx="491.8" cy="95.54" r="2.95" fill="url(#gee3a3f)"/>
<circle cx="518.6" cy="78.2" r="2.95" fill="url(#gee3a3f)"/>
<circle cx="545.4" cy="72.81" r="2.95" fill="url(#gee3a3f)"/>
<circle cx="572.2" cy="64.61" r="2.95" fill="url(#gee3a3f)"/>
<circle cx="599" cy="52.19" r="2.95" fill="url(#gee3a3f)"/>
<circle cx="625.8" cy="47.98" r="2.95" fill="url(#gee3a3f)"/>
<circle cx="652.6" cy="44.7" r="2.95" fill="url(#gee3a3f)"/>
<circle cx="384.6" cy="239.4" r="2.95" fill="url(#g2b70dd)"/>
<circle cx="411.4" cy="155.75" r="2.95" fill="url(#g2b70dd)"/>
<circle cx="438.2" cy="107.96" r="2.95" fill="url(#g2b70dd)"/>
<circle cx="465" cy="92.73" r="2.95" fill="url(#g2b70dd)"/>
<circle cx="491.8" cy="77.26" r="2.95" fill="url(#g2b70dd)"/>
<circle cx="518.6" cy="61.8" r="2.95" fill="url(#g2b70dd)"/>
<circle cx="545.4" cy="51.49" r="2.95" fill="url(#g2b70dd)"/>
<circle cx="572.2" cy="45.63" r="2.95" fill="url(#g2b70dd)"/>
<circle cx="599" cy="39.54" r="2.95" fill="url(#g2b70dd)"/>
<circle cx="625.8" cy="34.39" r="2.95" fill="url(#g2b70dd)"/>
<circle cx="652.6" cy="32.98" r="2.95" fill="url(#g2b70dd)"/>
<circle cx="384.6" cy="239.4" r="2.95" fill="url(#g35a766)"/>
<circle cx="411.4" cy="238.23" r="2.95" fill="url(#g35a766)"/>
<circle cx="438.2" cy="236.35" r="2.95" fill="url(#g35a766)"/>
<circle cx="465" cy="230.26" r="2.95" fill="url(#g35a766)"/>
<circle cx="491.8" cy="225.34" r="2.95" fill="url(#g35a766)"/>
<circle cx="518.6" cy="221.36" r="2.95" fill="url(#g35a766)"/>
<circle cx="545.4" cy="205.19" r="2.95" fill="url(#g35a766)"/>
<circle cx="572.2" cy="205.19" r="2.95" fill="url(#g35a766)"/>
<circle cx="599" cy="201.68" r="2.95" fill="url(#g35a766)"/>
<circle cx="625.8" cy="180.36" r="2.95" fill="url(#g35a766)"/>
<circle cx="652.6" cy="173.56" r="2.95" fill="url(#g35a766)"/>
<path d="M382,5.1H679.25" stroke="#444" stroke-width="1.5" fill="none"/>
<path d="M679.25,5.1V244.2" stroke="#333" stroke-width="1.3" fill="none"/>
<path d="M382,5.1V244.2H679.25" stroke="#000" stroke-width="1.2" fill="none" stroke-linejoin="miter" stroke-linecap="square"/>
<line x1="384.6" y1="244.2" x2="384.6" y2="248.2" stroke="#000" stroke-width="1.2" />
<text x="384.6" y="261" font-size="11" text-anchor="middle" >0</text>
<line x1="398" y1="244.2" x2="398" y2="246.5" stroke="#000" stroke-width="1.2" />
<line x1="411.4" y1="244.2" x2="411.4" y2="248.2" stroke="#000" stroke-width="1.2" />
<text x="411.4" y="261" font-size="11" text-anchor="middle" >2</text>
<line x1="424.8" y1="244.2" x2="424.8" y2="246.5" stroke="#000" stroke-width="1.2" />
<line x1="438.2" y1="244.2" x2="438.2" y2="248.2" stroke="#000" stroke-width="1.2" />
<text x="438.2" y="261" font-size="11" text-anchor="middle" >4</text>
<line x1="451.6" y1="244.2" x2="451.6" y2="246.5" stroke="#000" stroke-width="1.2" />
<line x1="465" y1="244.2" x2="465" y2="248.2" stroke="#000" stroke-width="1.2" />
<text x="465" y="261" font-size="11" text-anchor="middle" >6</text>
<line x1="478.4" y1="244.2" x2="478.4" y2="246.5" stroke="#000" stroke-width="1.2" />
<line x1="491.8" y1="244.2" x2="491.8" y2="248.2" stroke="#000" stroke-width="1.2" />
<text x="491.8" y="261" font-size="11" text-anchor="middle" >8</text>
<line x1="505.2" y1="244.2" x2="505.2" y2="246.5" stroke="#000" stroke-width="1.2" />
<line x1="518.6" y1="244.2" x2="518.6" y2="248.2" stroke="#000" stroke-width="1.2" />
<text x="518.6" y="261" font-size="11" text-anchor="middle" >10</text>
<line x1="532" y1="244.2" x2="532" y2="246.5" stroke="#000" stroke-width="1.2" />
<line x1="545.4" y1="244.2" x2="545.4" y2="248.2" stroke="#000" stroke-width="1.2" />
<text x="545.4" y="261" font-size="11" text-anchor="middle" >12</text>
<line x1="558.8" y1="244.2" x2="558.8" y2="246.5" stroke="#000" stroke-width="1.2" />
<line x1="572.2" y1="244.2" x2="572.2" y2="248.2" stroke="#000" stroke-width="1.2" />
<text x="572.2" y="261" font-size="11" text-anchor="middle" >14</text>
<line x1="585.6" y1="244.2" x2="585.6" y2="246.5" stroke="#000" stroke-width="1.2" />
<line x1="599" y1="244.2" x2="599" y2="248.2" stroke="#000" stroke-width="1.2" />
<text x="599" y="261" font-size="11" text-anchor="middle" >16</text>
<line x1="612.4" y1="244.2" x2="612.4" y2="246.5" stroke="#000" stroke-width="1.2" />
<line x1="625.8" y1="244.2" x2="625.8" y2="248.2" stroke="#000" stroke-width="1.2" />
<text x="625.8" y="261" font-size="11" text-anchor="middle" >18</text>
<line x1="639.2" y1="244.2" x2="639.2" y2="246.5" stroke="#000" stroke-width="1.2" />
<line x1="652.6" y1="244.2" x2="652.6" y2="248.2" stroke="#000" stroke-width="1.2" />
<text x="652.6" y="261" font-size="11" text-anchor="middle" >20</text>
<line x1="666" y1="244.2" x2="666" y2="246.5" stroke="#000" stroke-width="1.2" />
<line x1="679.4" y1="244.2" x2="679.4" y2="248.2" stroke="#000" stroke-width="1.2" />
<text x="679.4" y="261" font-size="11" text-anchor="middle" >22</text>
<line x1="379" y1="239.4" x2="382" y2="239.4" stroke="#000" stroke-width="1.2" />
<text x="377" y="242.9" font-size="11" text-anchor="end" >0</text>
<line x1="380.2" y1="215.97" x2="382" y2="215.97" stroke="#000" stroke-width="1.2" />
<line x1="379" y1="192.54" x2="382" y2="192.54" stroke="#000" stroke-width="1.2" />
<text x="377" y="196.04" font-size="11" text-anchor="end" >20</text>
<line x1="380.2" y1="169.11" x2="382" y2="169.11" stroke="#000" stroke-width="1.2" />
<line x1="379" y1="145.68" x2="382" y2="145.68" stroke="#000" stroke-width="1.2" />
<text x="377" y="149.18" font-size="11" text-anchor="end" >40</text>
<line x1="380.2" y1="122.25" x2="382" y2="122.25" stroke="#000" stroke-width="1.2" />
<line x1="379" y1="98.82" x2="382" y2="98.82" stroke="#000" stroke-width="1.2" />
<text x="377" y="102.32" font-size="11" text-anchor="end" >60</text>
<line x1="380.2" y1="75.39" x2="382" y2="75.39" stroke="#000" stroke-width="1.2" />
<line x1="379" y1="51.96" x2="382" y2="51.96" stroke="#000" stroke-width="1.2" />
<text x="377" y="55.46" font-size="11" text-anchor="end" >80</text>
<line x1="380.2" y1="28.53" x2="382" y2="28.53" stroke="#000" stroke-width="1.2" />
<line x1="379" y1="5.1" x2="382" y2="5.1" stroke="#000" stroke-width="1.2" />
<text x="377" y="8.6" font-size="11" text-anchor="end" >100</text>
<text transform="translate(359.2,124.3) rotate(-90)" font-size="14.7" text-anchor="middle">Degradation (%)</text>
<text x="530.8" y="280.1" font-size="16.9" text-anchor="middle" >Time (min)</text>
<text x="465.6" y="31.8" font-size="32.7" style="font-family:'Liberation Serif',serif;font-weight:bold">(b)</text>
<line x1="495.9" y1="109.5" x2="526.8" y2="109.5" stroke="#474747" stroke-width="1.3" />
<circle cx="511.35" cy="109.5" r="2.8" fill="url(#g474747)"/>
<text x="530.6" y="114" font-size="13.2">Ag1/Chi-CF</text>
<line x1="495.9" y1="126.05" x2="526.8" y2="126.05" stroke="#ee3a3f" stroke-width="1.3" />
<circle cx="511.35" cy="126.05" r="2.8" fill="url(#gee3a3f)"/>
<text x="530.6" y="130.55" font-size="13.2">Ag2/Chi-CF</text>
<line x1="495.9" y1="142.6" x2="526.8" y2="142.6" stroke="#2b70dd" stroke-width="1.3" />
<circle cx="511.35" cy="142.6" r="2.8" fill="url(#g2b70dd)"/>
<text x="530.6" y="147.1" font-size="13.2">Ag3/Chi-CF</text>
<line x1="495.9" y1="159.15" x2="526.8" y2="159.15" stroke="#35a766" stroke-width="1.3" />
<circle cx="511.35" cy="159.15" r="2.8" fill="url(#g35a766)"/>
<text x="530.6" y="163.65" font-size="13.2">NaBH<tspan font-size="9.7" dy="3.2">4</tspan><tspan dy="-3.2" dx="0.8" font-size="13.55"> (without catalyst)</tspan></text>
<path d="M37.1,541.2 C45.87,511.41 54.63,481.63 63.4,458.95 C72.17,436.27 80.93,420.7 89.7,411.95 C98.47,403.2 107.23,401.27 116,397.43 C124.77,393.59 133.53,387.84 142.3,382.22 C151.07,376.61 159.83,371.13 168.6,366.79 C177.37,362.44 186.13,359.23 194.9,356.88 C203.67,354.53 212.43,353.05 221.2,351.12 C229.97,349.19 238.73,346.81 247.5,344.9 C256.27,342.99 265.03,341.56 273.8,340.52 C282.57,339.49 291.33,338.85 300.1,338.22" fill="none" stroke="#474747" stroke-width="1.3"/>
<path d="M37.1,541.2 C45.87,515.59 54.63,489.97 63.4,468.62 C72.17,447.28 80.93,430.19 89.7,422.08 C98.47,413.97 107.23,414.84 116,411.95 C124.77,409.05 133.53,402.4 142.3,395.82 C151.07,389.24 159.83,382.73 168.6,379 C177.37,375.26 186.13,374.3 194.9,374.16 C203.67,374.02 212.43,374.69 221.2,373.47 C229.97,372.25 238.73,369.13 247.5,366.79 C256.27,364.44 265.03,362.86 273.8,361.72 C282.57,360.58 291.33,359.88 300.1,359.18" fill="none" stroke="#ee3a3f" stroke-width="1.3"/>
<path d="M37.1,541.2 C45.87,520.54 54.63,499.88 63.4,480.6 C72.17,461.32 80.93,443.42 89.7,436.14 C98.47,428.85 107.23,432.19 116,428.07 C124.77,423.96 133.53,412.4 142.3,405.72 C151.07,399.05 159.83,397.27 168.6,396.51 C177.37,395.75 186.13,396.01 194.9,392.13 C203.67,388.25 212.43,380.22 221.2,376.69 C229.97,373.17 238.73,374.15 247.5,373.47 C256.27,372.79 265.03,370.44 273.8,368.63 C282.57,366.82 291.33,365.54 300.1,364.25" fill="none" stroke="#2b70dd" stroke-width="1.3"/>
<path d="M63.4,452.27V465.63" stroke="#474747" stroke-width="1.1" fill="none"/>
<path d="M60.7,452.27H66.1M60.7,465.63H66.1" stroke="#474747" stroke-width="1.0" fill="none"/>
<path d="M89.7,405.26V418.63" stroke="#474747" stroke-width="1.1" fill="none"/>
<path d="M87,405.26H92.4M87,418.63H92.4" stroke="#474747" stroke-width="1.0" fill="none"/>
<path d="M116,390.98V403.88" stroke="#474747" stroke-width="1.1" fill="none"/>
<path d="M113.3,390.98H118.7M113.3,403.88H118.7" stroke="#474747" stroke-width="1.0" fill="none"/>
<path d="M142.3,375.54V388.91" stroke="#474747" stroke-width="1.1" fill="none"/>
<path d="M139.6,375.54H145M139.6,388.91H145" stroke="#474747" stroke-width="1.0" fill="none"/>
<path d="M168.6,359.88V373.7" stroke="#474747" stroke-width="1.1" fill="none"/>
<path d="M165.9,359.88H171.3M165.9,373.7H171.3" stroke="#474747" stroke-width="1.0" fill="none"/>
<path d="M194.9,349.97V363.79" stroke="#474747" stroke-width="1.1" fill="none"/>
<path d="M192.2,349.97H197.6M192.2,363.79H197.6" stroke="#474747" stroke-width="1.0" fill="none"/>
<path d="M221.2,344.21V358.03" stroke="#474747" stroke-width="1.1" fill="none"/>
<path d="M218.5,344.21H223.9M218.5,358.03H223.9" stroke="#474747" stroke-width="1.0" fill="none"/>
<path d="M247.5,339.14V350.66" stroke="#474747" stroke-width="1.1" fill="none"/>
<path d="M244.8,339.14H250.2M244.8,350.66H250.2" stroke="#474747" stroke-width="1.0" fill="none"/>
<path d="M273.8,334.76V346.28" stroke="#474747" stroke-width="1.1" fill="none"/>
<path d="M271.1,334.76H276.5M271.1,346.28H276.5" stroke="#474747" stroke-width="1.0" fill="none"/>
<path d="M300.1,332.69V343.75" stroke="#474747" stroke-width="1.1" fill="none"/>
<path d="M297.4,332.69H302.8M297.4,343.75H302.8" stroke="#474747" stroke-width="1.0" fill="none"/>
<path d="M63.4,462.17V475.08" stroke="#ee3a3f" stroke-width="1.1" fill="none"/>
<path d="M60.7,462.17H66.1M60.7,475.08H66.1" stroke="#ee3a3f" stroke-width="1.0" fill="none"/>
<path d="M89.7,415.63V428.53" stroke="#ee3a3f" stroke-width="1.1" fill="none"/>
<path d="M87,415.63H92.4M87,428.53H92.4" stroke="#ee3a3f" stroke-width="1.0" fill="none"/>
<path d="M116,405.03V418.86" stroke="#ee3a3f" stroke-width="1.1" fill="none"/>
<path d="M113.3,405.03H118.7M113.3,418.86H118.7" stroke="#ee3a3f" stroke-width="1.0" fill="none"/>
<path d="M142.3,388.91V402.73" stroke="#ee3a3f" stroke-width="1.1" fill="none"/>
<path d="M139.6,388.91H145M139.6,402.73H145" stroke="#ee3a3f" stroke-width="1.0" fill="none"/>
<path d="M168.6,371.63V386.37" stroke="#ee3a3f" stroke-width="1.1" fill="none"/>
<path d="M165.9,371.63H171.3M165.9,386.37H171.3" stroke="#ee3a3f" stroke-width="1.0" fill="none"/>
<path d="M194.9,367.25V381.07" stroke="#ee3a3f" stroke-width="1.1" fill="none"/>
<path d="M192.2,367.25H197.6M192.2,381.07H197.6" stroke="#ee3a3f" stroke-width="1.0" fill="none"/>
<path d="M221.2,366.56V380.38" stroke="#ee3a3f" stroke-width="1.1" fill="none"/>
<path d="M218.5,366.56H223.9M218.5,380.38H223.9" stroke="#ee3a3f" stroke-width="1.0" fill="none"/>
<path d="M247.5,359.88V373.7" stroke="#ee3a3f" stroke-width="1.1" fill="none"/>
<path d="M244.8,359.88H250.2M244.8,373.7H250.2" stroke="#ee3a3f" stroke-width="1.0" fill="none"/>
<path d="M273.8,354.81V368.63" stroke="#ee3a3f" stroke-width="1.1" fill="none"/>
<path d="M271.1,354.81H276.5M271.1,368.63H276.5" stroke="#ee3a3f" stroke-width="1.0" fill="none"/>
<path d="M300.1,351.81V366.56" stroke="#ee3a3f" stroke-width="1.1" fill="none"/>
<path d="M297.4,351.81H302.8M297.4,366.56H302.8" stroke="#ee3a3f" stroke-width="1.0" fill="none"/>
<path d="M63.4,474.15V487.06" stroke="#2b70dd" stroke-width="1.1" fill="none"/>
<path d="M60.7,474.15H66.1M60.7,487.06H66.1" stroke="#2b70dd" stroke-width="1.0" fill="none"/>
<path d="M89.7,429.46V442.82" stroke="#2b70dd" stroke-width="1.1" fill="none"/>
<path d="M87,429.46H92.4M87,442.82H92.4" stroke="#2b70dd" stroke-width="1.0" fill="none"/>
<path d="M116,421.62V434.52" stroke="#2b70dd" stroke-width="1.1" fill="none"/>
<path d="M113.3,421.62H118.7M113.3,434.52H118.7" stroke="#2b70dd" stroke-width="1.0" fill="none"/>
<path d="M142.3,399.04V412.41" stroke="#2b70dd" stroke-width="1.1" fill="none"/>
<path d="M139.6,399.04H145M139.6,412.41H145" stroke="#2b70dd" stroke-width="1.0" fill="none"/>
<path d="M168.6,390.06V402.96" stroke="#2b70dd" stroke-width="1.1" fill="none"/>
<path d="M165.9,390.06H171.3M165.9,402.96H171.3" stroke="#2b70dd" stroke-width="1.0" fill="none"/>
<path d="M194.9,385.22V399.04" stroke="#2b70dd" stroke-width="1.1" fill="none"/>
<path d="M192.2,385.22H197.6M192.2,399.04H197.6" stroke="#2b70dd" stroke-width="1.0" fill="none"/>
<path d="M221.2,369.78V383.61" stroke="#2b70dd" stroke-width="1.1" fill="none"/>
<path d="M218.5,369.78H223.9M218.5,383.61H223.9" stroke="#2b70dd" stroke-width="1.0" fill="none"/>
<path d="M247.5,366.79V380.15" stroke="#2b70dd" stroke-width="1.1" fill="none"/>
<path d="M244.8,366.79H250.2M244.8,380.15H250.2" stroke="#2b70dd" stroke-width="1.0" fill="none"/>
<path d="M273.8,361.72V375.54" stroke="#2b70dd" stroke-width="1.1" fill="none"/>
<path d="M271.1,361.72H276.5M271.1,375.54H276.5" stroke="#2b70dd" stroke-width="1.0" fill="none"/>
<path d="M300.1,357.34V371.16" stroke="#2b70dd" stroke-width="1.1" fill="none"/>
<path d="M297.4,357.34H302.8M297.4,371.16H302.8" stroke="#2b70dd" stroke-width="1.0" fill="none"/>
<circle cx="37.1" cy="541.2" r="2.95" fill="url(#g474747)"/>
<circle cx="63.4" cy="458.95" r="2.95" fill="url(#g474747)"/>
<circle cx="89.7" cy="411.95" r="2.95" fill="url(#g474747)"/>
<circle cx="116" cy="397.43" r="2.95" fill="url(#g474747)"/>
<circle cx="142.3" cy="382.22" r="2.95" fill="url(#g474747)"/>
<circle cx="168.6" cy="366.79" r="2.95" fill="url(#g474747)"/>
<circle cx="194.9" cy="356.88" r="2.95" fill="url(#g474747)"/>
<circle cx="221.2" cy="351.12" r="2.95" fill="url(#g474747)"/>
<circle cx="247.5" cy="344.9" r="2.95" fill="url(#g474747)"/>
<circle cx="273.8" cy="340.52" r="2.95" fill="url(#g474747)"/>
<circle cx="300.1" cy="338.22" r="2.95" fill="url(#g474747)"/>
<circle cx="37.1" cy="541.2" r="2.95" fill="url(#gee3a3f)"/>
<circle cx="63.4" cy="468.62" r="2.95" fill="url(#gee3a3f)"/>
<circle cx="89.7" cy="422.08" r="2.95" fill="url(#gee3a3f)"/>
<circle cx="116" cy="411.95" r="2.95" fill="url(#gee3a3f)"/>
<circle cx="142.3" cy="395.82" r="2.95" fill="url(#gee3a3f)"/>
<circle cx="168.6" cy="379" r="2.95" fill="url(#gee3a3f)"/>
<circle cx="194.9" cy="374.16" r="2.95" fill="url(#gee3a3f)"/>
<circle cx="221.2" cy="373.47" r="2.95" fill="url(#gee3a3f)"/>
<circle cx="247.5" cy="366.79" r="2.95" fill="url(#gee3a3f)"/>
<circle cx="273.8" cy="361.72" r="2.95" fill="url(#gee3a3f)"/>
<circle cx="300.1" cy="359.18" r="2.95" fill="url(#gee3a3f)"/>
<circle cx="37.1" cy="541.2" r="2.95" fill="url(#g2b70dd)"/>
<circle cx="63.4" cy="480.6" r="2.95" fill="url(#g2b70dd)"/>
<circle cx="89.7" cy="436.14" r="2.95" fill="url(#g2b70dd)"/>
<circle cx="116" cy="428.07" r="2.95" fill="url(#g2b70dd)"/>
<circle cx="142.3" cy="405.72" r="2.95" fill="url(#g2b70dd)"/>
<circle cx="168.6" cy="396.51" r="2.95" fill="url(#g2b70dd)"/>
<circle cx="194.9" cy="392.13" r="2.95" fill="url(#g2b70dd)"/>
<circle cx="221.2" cy="376.69" r="2.95" fill="url(#g2b70dd)"/>
<circle cx="247.5" cy="373.47" r="2.95" fill="url(#g2b70dd)"/>
<circle cx="273.8" cy="368.63" r="2.95" fill="url(#g2b70dd)"/>
<circle cx="300.1" cy="364.25" r="2.95" fill="url(#g2b70dd)"/>
<path d="M34.6,310.8H326.2" stroke="#444" stroke-width="1.5" fill="none"/>
<path d="M326.2,310.8V545.5" stroke="#333" stroke-width="1.3" fill="none"/>
<path d="M34.6,310.8V545.5H326.2" stroke="#000" stroke-width="1.2" fill="none" stroke-linejoin="miter" stroke-linecap="square"/>
<line x1="37.1" y1="545.5" x2="37.1" y2="549.5" stroke="#000" stroke-width="1.2" />
<text x="37.1" y="562.3" font-size="11" text-anchor="middle" >0</text>
<line x1="50.25" y1="545.5" x2="50.25" y2="547.8" stroke="#000" stroke-width="1.2" />
<line x1="63.4" y1="545.5" x2="63.4" y2="549.5" stroke="#000" stroke-width="1.2" />
<text x="63.4" y="562.3" font-size="11" text-anchor="middle" >2</text>
<line x1="76.55" y1="545.5" x2="76.55" y2="547.8" stroke="#000" stroke-width="1.2" />
<line x1="89.7" y1="545.5" x2="89.7" y2="549.5" stroke="#000" stroke-width="1.2" />
<text x="89.7" y="562.3" font-size="11" text-anchor="middle" >4</text>
<line x1="102.85" y1="545.5" x2="102.85" y2="547.8" stroke="#000" stroke-width="1.2" />
<line x1="116" y1="545.5" x2="116" y2="549.5" stroke="#000" stroke-width="1.2" />
<text x="116" y="562.3" font-size="11" text-anchor="middle" >6</text>
<line x1="129.15" y1="545.5" x2="129.15" y2="547.8" stroke="#000" stroke-width="1.2" />
<line x1="142.3" y1="545.5" x2="142.3" y2="549.5" stroke="#000" stroke-width="1.2" />
<text x="142.3" y="562.3" font-size="11" text-anchor="middle" >8</text>
<line x1="155.45" y1="545.5" x2="155.45" y2="547.8" stroke="#000" stroke-width="1.2" />
<line x1="168.6" y1="545.5" x2="168.6" y2="549.5" stroke="#000" stroke-width="1.2" />
<text x="168.6" y="562.3" font-size="11" text-anchor="middle" >10</text>
<line x1="181.75" y1="545.5" x2="181.75" y2="547.8" stroke="#000" stroke-width="1.2" />
<line x1="194.9" y1="545.5" x2="194.9" y2="549.5" stroke="#000" stroke-width="1.2" />
<text x="194.9" y="562.3" font-size="11" text-anchor="middle" >12</text>
<line x1="208.05" y1="545.5" x2="208.05" y2="547.8" stroke="#000" stroke-width="1.2" />
<line x1="221.2" y1="545.5" x2="221.2" y2="549.5" stroke="#000" stroke-width="1.2" />
<text x="221.2" y="562.3" font-size="11" text-anchor="middle" >14</text>
<line x1="234.35" y1="545.5" x2="234.35" y2="547.8" stroke="#000" stroke-width="1.2" />
<line x1="247.5" y1="545.5" x2="247.5" y2="549.5" stroke="#000" stroke-width="1.2" />
<text x="247.5" y="562.3" font-size="11" text-anchor="middle" >16</text>
<line x1="260.65" y1="545.5" x2="260.65" y2="547.8" stroke="#000" stroke-width="1.2" />
<line x1="273.8" y1="545.5" x2="273.8" y2="549.5" stroke="#000" stroke-width="1.2" />
<text x="273.8" y="562.3" font-size="11" text-anchor="middle" >18</text>
<line x1="286.95" y1="545.5" x2="286.95" y2="547.8" stroke="#000" stroke-width="1.2" />
<line x1="300.1" y1="545.5" x2="300.1" y2="549.5" stroke="#000" stroke-width="1.2" />
<text x="300.1" y="562.3" font-size="11" text-anchor="middle" >20</text>
<line x1="313.25" y1="545.5" x2="313.25" y2="547.8" stroke="#000" stroke-width="1.2" />
<line x1="326.4" y1="545.5" x2="326.4" y2="549.5" stroke="#000" stroke-width="1.2" />
<text x="326.4" y="562.3" font-size="11" text-anchor="middle" >22</text>
<line x1="31.6" y1="541.2" x2="34.6" y2="541.2" stroke="#000" stroke-width="1.2" />
<text x="29.6" y="544.7" font-size="11" text-anchor="end" >0</text>
<line x1="32.8" y1="518.16" x2="34.6" y2="518.16" stroke="#000" stroke-width="1.2" />
<line x1="31.6" y1="495.12" x2="34.6" y2="495.12" stroke="#000" stroke-width="1.2" />
<text x="29.6" y="498.62" font-size="11" text-anchor="end" >20</text>
<line x1="32.8" y1="472.08" x2="34.6" y2="472.08" stroke="#000" stroke-width="1.2" />
<line x1="31.6" y1="449.04" x2="34.6" y2="449.04" stroke="#000" stroke-width="1.2" />
<text x="29.6" y="452.54" font-size="11" text-anchor="end" >40</text>
<line x1="32.8" y1="426" x2="34.6" y2="426" stroke="#000" stroke-width="1.2" />
<line x1="31.6" y1="402.96" x2="34.6" y2="402.96" stroke="#000" stroke-width="1.2" />
<text x="29.6" y="406.46" font-size="11" text-anchor="end" >60</text>
<line x1="32.8" y1="379.92" x2="34.6" y2="379.92" stroke="#000" stroke-width="1.2" />
<line x1="31.6" y1="356.88" x2="34.6" y2="356.88" stroke="#000" stroke-width="1.2" />
<text x="29.6" y="360.38" font-size="11" text-anchor="end" >80</text>
<line x1="32.8" y1="333.84" x2="34.6" y2="333.84" stroke="#000" stroke-width="1.2" />
<line x1="31.6" y1="310.8" x2="34.6" y2="310.8" stroke="#000" stroke-width="1.2" />
<text x="29.6" y="314.3" font-size="11" text-anchor="end" >100</text>
<text transform="translate(10.7,427.4) rotate(-90)" font-size="14.7" text-anchor="middle">Degradation (%)</text>
<text x="180.8" y="580.4" font-size="16.9" text-anchor="middle" >Time (min)</text>
<text x="73.4" y="337" font-size="32.7" style="font-family:'Liberation Serif',serif;font-weight:bold">(c)</text>
<line x1="232" y1="403.1" x2="261.8" y2="403.1" stroke="#474747" stroke-width="1.3" />
<circle cx="246.9" cy="403.1" r="2.8" fill="url(#g474747)"/>
<text x="266.2" y="407.6" font-size="13.1">Ist cycle</text>
<line x1="232" y1="419.8" x2="261.8" y2="419.8" stroke="#ee3a3f" stroke-width="1.3" />
<circle cx="246.9" cy="419.8" r="2.8" fill="url(#gee3a3f)"/>
<text x="266.2" y="424.3" font-size="13.1">2nd cycle</text>
<line x1="232" y1="436.5" x2="261.8" y2="436.5" stroke="#2b70dd" stroke-width="1.3" />
<circle cx="246.9" cy="436.5" r="2.8" fill="url(#g2b70dd)"/>
<text x="266.2" y="441" font-size="13.1">3rd cycle</text>
<rect x="396.75" y="337.74" width="78.3" height="208.56" fill="url(#bar)"/>
<rect x="494.85" y="358.6" width="78.3" height="187.7" fill="url(#bar)"/>
<rect x="593.05" y="363.81" width="78.3" height="182.49" fill="url(#bar)"/>
<path d="M435.9,332.29V343.19M433.2,332.29H438.6M433.2,343.19H438.6" stroke="#1a1a1a" stroke-width="1" fill="none"/>
<path d="M534,351.01V366.18M531.3,351.01H536.7M531.3,366.18H536.7" stroke="#1a1a1a" stroke-width="1" fill="none"/>
<path d="M632.2,356.7V370.92M629.5,356.7H634.9M629.5,370.92H634.9" stroke="#1a1a1a" stroke-width="1" fill="none"/>
<path d="M386.8,309.4H681.2" stroke="#444" stroke-width="1.5" fill="none"/>
<path d="M681.2,309.4V546.3" stroke="#333" stroke-width="1.3" fill="none"/>
<path d="M386.8,309.4V546.3H681.2" stroke="#000" stroke-width="1.2" fill="none" stroke-linejoin="miter" stroke-linecap="square"/>
<line x1="435.9" y1="546.3" x2="435.9" y2="550.5" stroke="#000" stroke-width="1.2" />
<line x1="534" y1="546.3" x2="534" y2="550.5" stroke="#000" stroke-width="1.2" />
<line x1="632.2" y1="546.3" x2="632.2" y2="550.5" stroke="#000" stroke-width="1.2" />
<line x1="383.8" y1="546.3" x2="386.8" y2="546.3" stroke="#000" stroke-width="1.2" />
<text x="381.8" y="549.8" font-size="11" text-anchor="end" >0</text>
<line x1="385" y1="522.6" x2="386.8" y2="522.6" stroke="#000" stroke-width="1.2" />
<line x1="383.8" y1="498.9" x2="386.8" y2="498.9" stroke="#000" stroke-width="1.2" />
<text x="381.8" y="502.4" font-size="11" text-anchor="end" >20</text>
<line x1="385" y1="475.2" x2="386.8" y2="475.2" stroke="#000" stroke-width="1.2" />
<line x1="383.8" y1="451.5" x2="386.8" y2="451.5" stroke="#000" stroke-width="1.2" />
<text x="381.8" y="455" font-size="11" text-anchor="end" >40</text>
<line x1="385" y1="427.8" x2="386.8" y2="427.8" stroke="#000" stroke-width="1.2" />
<line x1="383.8" y1="404.1" x2="386.8" y2="404.1" stroke="#000" stroke-width="1.2" />
<text x="381.8" y="407.6" font-size="11" text-anchor="end" >60</text>
<line x1="385" y1="380.4" x2="386.8" y2="380.4" stroke="#000" stroke-width="1.2" />
<line x1="383.8" y1="356.7" x2="386.8" y2="356.7" stroke="#000" stroke-width="1.2" />
<text x="381.8" y="360.2" font-size="11" text-anchor="end" >80</text>
<line x1="385" y1="333" x2="386.8" y2="333" stroke="#000" stroke-width="1.2" />
<line x1="383.8" y1="309.3" x2="386.8" y2="309.3" stroke="#000" stroke-width="1.2" />
<text x="381.8" y="312.8" font-size="11" text-anchor="end" >100</text>
<text x="435.9" y="565.3" font-size="14.6" text-anchor="middle" >Ist cycle</text>
<text x="534" y="565.3" font-size="14.6" text-anchor="middle" >2nd cycle</text>
<text x="632.2" y="565.3" font-size="14.6" text-anchor="middle" >3rd cycle</text>
<text transform="translate(364.9,422.3) rotate(-90)" font-size="14.7" text-anchor="middle">Degradation (%)</text>
<rect x="580.2" y="314.4" width="26.8" height="12.8" fill="url(#bar2)"/>
<text x="611.2" y="324.5" font-size="12.2" text-anchor="start" >Ag3/Chi-CF</text>
<text x="487.6" y="336.3" font-size="32.7" style="font-family:'Liberation Serif',serif;font-weight:bold">(d)</text>
<rect x="236" y="659.73" width="58.8" height="180.27" fill="url(#bar)"/>
<rect x="310.4" y="641.78" width="58.8" height="198.22" fill="url(#bar)"/>
<rect x="384.8" y="629.33" width="58.8" height="210.67" fill="url(#bar)"/>
<rect x="459.2" y="772.97" width="58.8" height="67.03" fill="url(#bar)"/>
<path d="M265.4,651.83V667.63M262.7,651.83H268.1M262.7,667.63H268.1" stroke="#1a1a1a" stroke-width="1" fill="none"/>
<path d="M339.8,633.4V650.16M337.1,633.4H342.5M337.1,650.16H342.5" stroke="#1a1a1a" stroke-width="1" fill="none"/>
<path d="M414.2,620.47V638.19M411.5,620.47H416.9M411.5,638.19H416.9" stroke="#1a1a1a" stroke-width="1" fill="none"/>
<path d="M488.6,763.39V782.54M485.9,763.39H491.3M485.9,782.54H491.3" stroke="#1a1a1a" stroke-width="1" fill="none"/>
<path d="M228.2,600.5H525.7" stroke="#444" stroke-width="1.5" fill="none"/>
<path d="M525.7,600.5V840" stroke="#333" stroke-width="1.3" fill="none"/>
<path d="M228.2,600.5V840H525.7" stroke="#000" stroke-width="1.2" fill="none" stroke-linejoin="miter" stroke-linecap="square"/>
<line x1="265.4" y1="840" x2="265.4" y2="844.2" stroke="#000" stroke-width="1.2" />
<line x1="339.8" y1="840" x2="339.8" y2="844.2" stroke="#000" stroke-width="1.2" />
<line x1="414.2" y1="840" x2="414.2" y2="844.2" stroke="#000" stroke-width="1.2" />
<line x1="488.6" y1="840" x2="488.6" y2="844.2" stroke="#000" stroke-width="1.2" />
<line x1="225.2" y1="840" x2="228.2" y2="840" stroke="#000" stroke-width="1.2" />
<text x="223.2" y="843.5" font-size="11" text-anchor="end" >0</text>
<line x1="226.4" y1="816.06" x2="228.2" y2="816.06" stroke="#000" stroke-width="1.2" />
<line x1="225.2" y1="792.12" x2="228.2" y2="792.12" stroke="#000" stroke-width="1.2" />
<text x="223.2" y="795.62" font-size="11" text-anchor="end" >20</text>
<line x1="226.4" y1="768.18" x2="228.2" y2="768.18" stroke="#000" stroke-width="1.2" />
<line x1="225.2" y1="744.24" x2="228.2" y2="744.24" stroke="#000" stroke-width="1.2" />
<text x="223.2" y="747.74" font-size="11" text-anchor="end" >40</text>
<line x1="226.4" y1="720.3" x2="228.2" y2="720.3" stroke="#000" stroke-width="1.2" />
<line x1="225.2" y1="696.36" x2="228.2" y2="696.36" stroke="#000" stroke-width="1.2" />
<text x="223.2" y="699.86" font-size="11" text-anchor="end" >60</text>
<line x1="226.4" y1="672.42" x2="228.2" y2="672.42" stroke="#000" stroke-width="1.2" />
<line x1="225.2" y1="648.48" x2="228.2" y2="648.48" stroke="#000" stroke-width="1.2" />
<text x="223.2" y="651.98" font-size="11" text-anchor="end" >80</text>
<line x1="226.4" y1="624.54" x2="228.2" y2="624.54" stroke="#000" stroke-width="1.2" />
<line x1="225.2" y1="600.6" x2="228.2" y2="600.6" stroke="#000" stroke-width="1.2" />
<text x="223.2" y="604.1" font-size="11" text-anchor="end" >100</text>
<text x="230.6" y="856.1" font-size="11.3" text-anchor="start" >Ag1/Chi-CF</text>
<text x="307.8" y="855.9" font-size="11.3" text-anchor="start" >Ag2/Chi-CF</text>
<text x="383.7" y="856.6" font-size="11.3" text-anchor="start" >Ag3/Chi-CF</text>
<text x="450.2" y="856.6" font-size="11.3" text-anchor="start" >NaBH<tspan font-size="7.9" dy="2.6">4</tspan><tspan dy="-2.6"> (without catalyst)</tspan></text>
<text transform="translate(203.8,720.2) rotate(-90)" font-size="14.7" text-anchor="middle">Degradation (%)</text>
<rect x="402" y="603.2" width="27" height="12.6" fill="url(#bar2)"/>
<text x="432.4" y="614.2" font-size="12.5" text-anchor="start" >Degradation (%)</text>
<text x="233.7" y="625.8" font-size="32.7" style="font-family:'Liberation Serif',serif;font-weight:bold">(e)</text>
<text x="377.7" y="878.2" font-size="17" text-anchor="middle" >Degradation (%) at 20 (min)</text>
</svg>
</body></html>
